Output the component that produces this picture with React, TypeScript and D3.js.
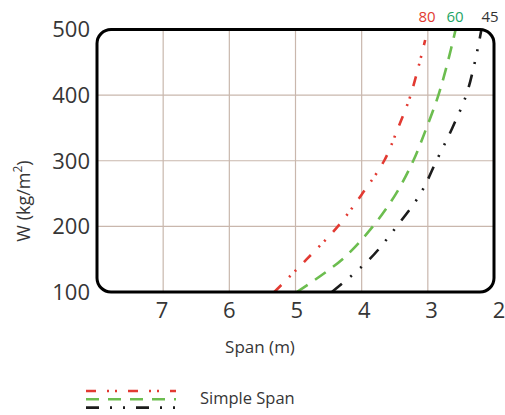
import React from "react";
import * as d3 from "d3";

const loads = [100, 150, 200, 250, 300, 350, 400, 450, 500];
const span80 = [5.32, 4.83, 4.36, 3.99, 3.66, 3.45, 3.26, 3.12, 3.0];
const span60 = [4.98, 4.29, 3.83, 3.48, 3.22, 3.02, 2.84, 2.7, 2.58];
const span45 = [4.45, 3.88, 3.47, 3.11, 2.87, 2.63, 2.42, 2.29, 2.19];
const topEnd80: [number, number] = [3.04, 484];
const xTicks = [7, 6, 5, 4, 3, 2];
const yTicks = [100, 200, 300, 400, 500];
const seriesLabels = ["80", "60", "45"];
const legendLabel = "Simple Span";

const FONT = "'Open Sans', 'Noto Sans', sans-serif";
const TEXT = "#363636";

export default function App() {
  const left = 97, right = 494, top = 29.5, bottom = 292;
  const x = d3.scaleLinear().domain([8, 2]).range([left, right]);
  const xLabel = d3.scaleLinear().domain([7, 2]).range([162, 499]);
  const y = d3.scaleLinear().domain([100, 500]).range([bottom, top]);

  const line = d3
    .line<[number, number]>()
    .x((d) => x(d[0]))
    .y((d) => y(d[1]))
    .curve(d3.curveCatmullRom);

  const pts = (spans: number[]): [number, number][] => spans.map((s, i) => [s, loads[i]]);

  const red80 = pts(span80).slice(0, 7);
  red80.push(topEnd80);

  const series = [
    { data: red80, color: "#e23a32", dash: "10,11,2,6,2,11", label: seriesLabels[0], lc: "#e23a32" },
    { data: pts(span60), color: "#6cbd4f", dash: "13,9", label: seriesLabels[1], lc: "#1ea565" },
    { data: pts(span45), color: "#1c1c1c", dash: "13,11,2,11,2,11", label: seriesLabels[2], lc: "#333" },
  ];
  const labelX = [427, 455, 490];

  return (
    <svg width={505} height={415} style={{ position: "absolute", left: 0, top: 0 }} fontFamily={FONT}>
      <defs>
        <clipPath id="plotClip">
          <rect x={left} y={top} width={right - left} height={bottom - top} rx={14} />
        </clipPath>
      </defs>
      <g clipPath="url(#plotClip)">
        {xTicks.filter((t) => t !== 2).map((t) => (
          <line key={"gx" + t} x1={x(t)} x2={x(t)} y1={top} y2={bottom} stroke="#c9b7ad" strokeWidth={1.2} />
        ))}
        {yTicks.filter((t) => t !== 100 && t !== 500).map((t) => (
          <line key={"gy" + t} x1={left} x2={right} y1={y(t)} y2={y(t)} stroke="#c9b7ad" strokeWidth={1.2} />
        ))}
        {series.map((s, i) => (
          <path key={i} d={line(s.data) || ""} fill="none" stroke={s.color} strokeWidth={2.6} strokeDasharray={s.dash} />
        ))}
      </g>
      <rect x={left} y={top} width={right - left} height={bottom - top} rx={14} fill="none" stroke="#000" strokeWidth={3} />
      {series.map((s, i) => (
        <text key={"sl" + i} x={labelX[i]} y={22} fontSize={15} textAnchor="middle" fill={s.lc}>
          {s.label}
        </text>
      ))}
      {yTicks.map((t) => (
        <text key={"yt" + t} x={90} y={y(t) + 2} fontSize={22} textAnchor="end" dominantBaseline="middle" fill={TEXT}>
          {t}
        </text>
      ))}
      {xTicks.map((t) => (
        <text key={"xt" + t} x={xLabel(t)} y={312} fontSize={22} textAnchor="middle" dominantBaseline="middle" fill={TEXT}>
          {t}
        </text>
      ))}
      <text x={260} y={348} fontSize={17} textAnchor="middle" dominantBaseline="middle" fill={TEXT}>
        Span (m)
      </text>
      <text transform="translate(25,201) rotate(-90)" fontSize={18} textAnchor="middle" dominantBaseline="middle" fill={TEXT}>
        W (kg/m<tspan fontSize={12} dy={-6}>2</tspan><tspan dy={6}>)</tspan>
      </text>
      {series.map((s, i) => (
        <line key={"lg" + i} x1={86} x2={176} y1={391 + i * 8.3} y2={391 + i * 8.3} stroke={s.color} strokeWidth={2.6} strokeDasharray={s.dash} />
      ))}
      <text x={200} y={400} fontSize={16.5} dominantBaseline="middle" fill={TEXT}>
        {legendLabel}
      </text>
    </svg>
  );
}
